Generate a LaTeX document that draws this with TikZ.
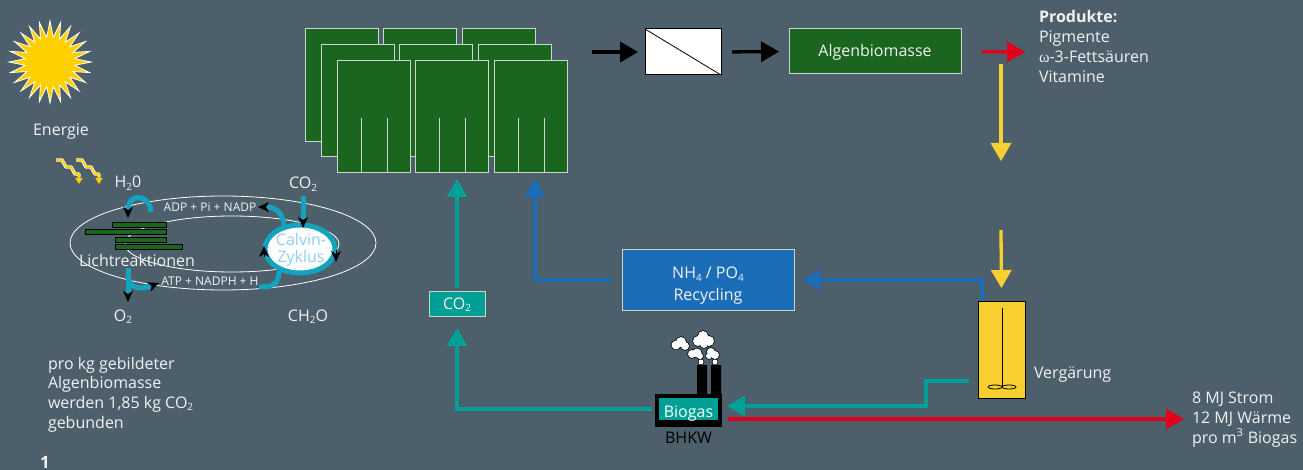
\documentclass[tikz,border=0pt]{standalone}
\usepackage{fontspec}
\setmainfont{Open Sans}
\newfontfamily\greekserif{Liberation Serif}
\usetikzlibrary{arrows.meta}

\definecolor{bg}{HTML}{4C5F6B}
\definecolor{algae}{HTML}{1B661F}
\definecolor{tealc}{HTML}{00A096}
\definecolor{cyanc}{HTML}{12A3BE}
\definecolor{blu}{HTML}{1C6DB8}
\definecolor{sunyel}{HTML}{FFD000}
\definecolor{tankyel}{HTML}{F7CF2E}
\definecolor{redc}{HTML}{E3001B}
\definecolor{calvintext}{HTML}{8CD2F2}
\definecolor{txt}{HTML}{F0F2F2}
\definecolor{frame}{HTML}{CDD5CF}

% lowered subscript, as in the chemical formulas
\newcommand{\lowsub}[1]{\raisebox{-0.35ex}{\fontsize{10}{10}\selectfont #1}}

\begin{document}
\begin{tikzpicture}[x=1pt,y=-1pt,
  every node/.style={inner sep=0pt,outer sep=0pt,text=txt,font=\fontsize{16}{20}\selectfont},
  lbl/.style={anchor=base},
  lblw/.style={anchor=base west},
  small/.style={font=\fontsize{12}{14}\selectfont},
  flowarrow/.style={line width=3.3pt,-{Triangle[length=18pt,width=21pt,line width=0pt]}},
  blackhead/.style={-{Stealth[length=11pt,width=10pt,inset=3pt,color=black,line width=0pt]}},
  cyanline/.style={draw=cyanc,line width=5pt},
  reactor/.style={fill=algae,draw=frame,line width=1pt},
  box/.style={draw=frame,line width=1pt}
]
% canvas
\fill[bg] (0,0) rectangle (1303,470);
\useasboundingbox (0,0) rectangle (1303,470);
\clip (0,0) rectangle (1303,470);

% sun
\filldraw[fill=sunyel,draw=white,line width=0.8pt] (91,62)
  \foreach \i in {1,...,47}{ -- ({50+(41-16*mod(\i,2))*cos(7.5*\i)},{62+(41-16*mod(\i,2))*sin(7.5*\i)}) } -- cycle;
\node[lbl] (energie) at (61,136) {Energie};

% light quanta
\foreach \dx in {0,20} {
  \draw[white,line width=3.4pt,line join=round]
    (56+\dx,160) -- (62+\dx,160) -- (66+\dx,167) -- (71+\dx,167) -- (75+\dx,174) -- (79+\dx,174) -- (79+\dx,177);
  \draw[sunyel,line width=1.8pt,line join=round,-{Triangle[length=6pt,width=7pt]}]
    (56+\dx,160) -- (62+\dx,160) -- (66+\dx,167) -- (71+\dx,167) -- (75+\dx,174) -- (79+\dx,174) -- (79+\dx,184);
}

% chloroplast membranes
\draw[white,line width=0.8pt] (223,243) ellipse [x radius=153pt,y radius=47pt];
\draw[white,line width=0.8pt] (232,244) ellipse [x radius=107pt,y radius=28pt];

% grana stacks
\foreach \xa/\xb/\ya in {112/166/222, 85/166/229, 115/166/237, 115/182/244}
  \filldraw[fill=algae,draw=black,line width=0.7pt] (\xa,\ya) rectangle (\xb,\ya+5);

% photosynthesis labels
\node[lbl] (h2o) at (128,188) {H\lowsub{2}0};
\node[lbl] (co2a) at (303,189) {CO\lowsub{2}};
\node[lbl,small] (adp) at (210,212) {ADP + Pi + NADP};
\node[lbl,small] (atp) at (210,285) {ATP + NADPH + H};
\node[lbl] (licht) at (137,266) {Lichtreaktionen};
\node[lbl] (o2) at (123,321) {O\lowsub{2}};
\node[lbl] (ch2o) at (308,321) {CH\lowsub{2}O};

% Calvin cycle
\draw[cyanline,fill=white] (300,249) ellipse [x radius=35pt,y radius=24pt];
\node[lbl,text=calvintext] (calvin) at (301,246) {Calvin-};
\node[lbl,text=calvintext] (zyklus) at (301,262) {Zyklus};

% water splitting, oxygen and ATP
\draw[cyanline,blackhead] (151,212) .. controls (150,194) and (128,192) .. (128,218);
\draw[cyanline,blackhead] (128,268) -- (128,302);
\draw[cyanline,blackhead] (128,274) .. controls (128,289) and (141,290) .. (159,283);
% carbon fixation and cofactor return
\draw[cyanline,blackhead] (303,196) -- (303,228);
\draw[cyanline,blackhead] (284,226) .. controls (283,211) and (274,207) .. (258,207);
\draw[cyanline] (279,271) .. controls (279,286) and (270,287) .. (259,287);
% direction of the cycle
\draw[blackhead] (336,250) -- (336,262);
\draw[blackhead] (264,257) -- (264,246);

% photobioreactors
\foreach \x in {305,383,462} \filldraw[reactor] (\x,29) rectangle (\x+73,142);
\foreach \x in {321,399,478} \filldraw[reactor] (\x,45) rectangle (\x+73,157);
\foreach \x in {337,415,494} {
  \filldraw[reactor] (\x,61) rectangle (\x+73,173);
  \draw[frame,line width=1pt] (\x+24,118) -- (\x+24,173) (\x+50,118) -- (\x+50,173);
}
\coordinate (reactorsout) at (567,52);
\coordinate (reactorA) at (457,173);
\coordinate (reactorB) at (535,173);

% harvesting
\node[draw=black,fill=white,line width=1pt,minimum width=76pt,minimum height=46pt] (filter) at (683,52) {};
\draw[black,line width=0.8pt] (filter.north west) -- (filter.south east);
\node[box,fill=algae,minimum width=172pt,minimum height=45pt] (algen) at (875,51.5) {};
\node[lbl] (algenlabel) at (875,57) {Algenbiomasse};
\draw[flowarrow,black,shorten <=25pt,shorten >=7pt] (reactorsout) -- (filter.west);
\draw[flowarrow,black,shorten <=11pt,shorten >=10pt] (filter.east) -- (algen.west);

% products
\coordinate (prodtip) at (1025,52);
\draw[flowarrow,redc,shorten <=21pt] (algen.east) -- (prodtip);
\node[lblw,font=\fontsize{16}{20}\selectfont\bfseries] (prod1) at (1039,23) {Produkte:};
\node[lblw] (prod2) at (1039,43) {Pigmente};
\node[lblw] (prod3) at (1039,63) {{\greekserif ω}-3-Fettsäuren};
\node[lblw] (prod4) at (1039,83) {Vitamine};

% digester
\node[draw=black,fill=tankyel,line width=1pt,minimum width=47pt,minimum height=97pt] (tank) at (1001.5,349.5) {};
\draw[black,line width=0.8pt] (1002,308) -- (1002,387);
\draw[black,line width=0.8pt] (995,387) ellipse [x radius=7pt,y radius=2pt] (1009,387) ellipse [x radius=7pt,y radius=2pt];
\node[lblw] (verg) at (1034,378) {Vergärung};

% residual biomass to the digester
\coordinate (y1s) at (1001,64);
\coordinate (y1e) at (1001,161);
\coordinate (y2s) at (1001,230);
\draw[flowarrow,tankyel] (y1s) -- (y1e);
\draw[flowarrow,tankyel,shorten >=13pt] (y2s) -- (tank.north);

% nutrient recycling
\node[box,fill=blu,minimum width=172pt,minimum height=60pt] (recyc) at (708,280) {};
\node[lbl] (recyc1) at (708,279) {NH\lowsub{4} / PO\lowsub{4}};
\node[lbl] (recyc2) at (708,300) {Recycling};
\coordinate (tankout) at (982,301);
\draw[flowarrow,blu,shorten >=8pt] (tankout) |- (recyc.east);
\draw[flowarrow,blu,shorten <=10pt,shorten >=6pt] (recyc.west) -| (reactorB);

% CO2 recycling
\node[box,fill=tealc,minimum width=56pt,minimum height=25pt] (co2box) at (457,303.5) {};
\node[lbl] (co2label) at (457,309) {CO\lowsub{2}};
\draw[flowarrow,tealc,shorten <=3pt,shorten >=6pt] (co2box.north) -- (reactorA);

% combined heat and power plant
\node[fill=black,minimum width=67pt,minimum height=33pt] (bhkw) at (688.5,410.5) {};
\node[fill=tealc,minimum width=59pt,minimum height=22pt] (biogas) at (688.5,409) {};
\node[lbl,text=white] (biogaslabel) at (688.5,417) {Biogas};
\node[lbl,text=black] (bhkwlabel) at (688.5,443) {BHKW};
\fill[black] (697,365) rectangle (707,394) (711,365) rectangle (721,394);
% smoke
\def\puffs{676/345/4.5, 681/342/5, 685/346/4, 698/341/5, 703/336/5, 709/341/5, 704/344/4,
  692/354/4, 697/353/4.5, 700/356/3, 711/352/4, 715/355/4, 709/356/3, 701/362/2.5, 715/362/2.5}
\foreach \cx/\cy/\r in \puffs \draw[black,line width=1.4pt] (\cx,\cy) circle [radius=\r*1pt];
\foreach \cx/\cy/\r in \puffs \fill[white] (\cx,\cy) circle [radius=\r*1pt];

\coordinate (tankgas) at (969,381);
\coordinate (bend) at (926,381);
\draw[flowarrow,tealc,shorten >=5pt] (tankgas) -- (bend) |- ([yshift=4.5pt]bhkw.east);
\draw[flowarrow,tealc,shorten <=3pt,shorten >=12pt] ([yshift=1.5pt]bhkw.west) -| (co2box.south);

% energy output
\coordinate (energyout) at (1184,419);
\draw[flowarrow,redc,shorten <=6pt] ([yshift=-8.5pt]bhkw.east) -- (energyout);
\node[lblw] (out1) at (1192,403) {8 MJ Strom};
\node[lblw] (out2) at (1192,423) {12 MJ Wärme};
\node[lblw] (out3) at (1192,443) {pro m\textsuperscript{3} Biogas};

% note
\node[lblw] (note1) at (48,369) {pro kg gebildeter};
\node[lblw] (note2) at (48,388) {Algenbiomasse};
\node[lblw] (note3) at (48,408) {werden 1,85 kg CO\lowsub{2}};
\node[lblw] (note4) at (48,428) {gebunden};
\node[lblw,font=\fontsize{17}{17}\selectfont\bfseries] (fignum) at (40,468) {1};
\end{tikzpicture}
\end{document}
